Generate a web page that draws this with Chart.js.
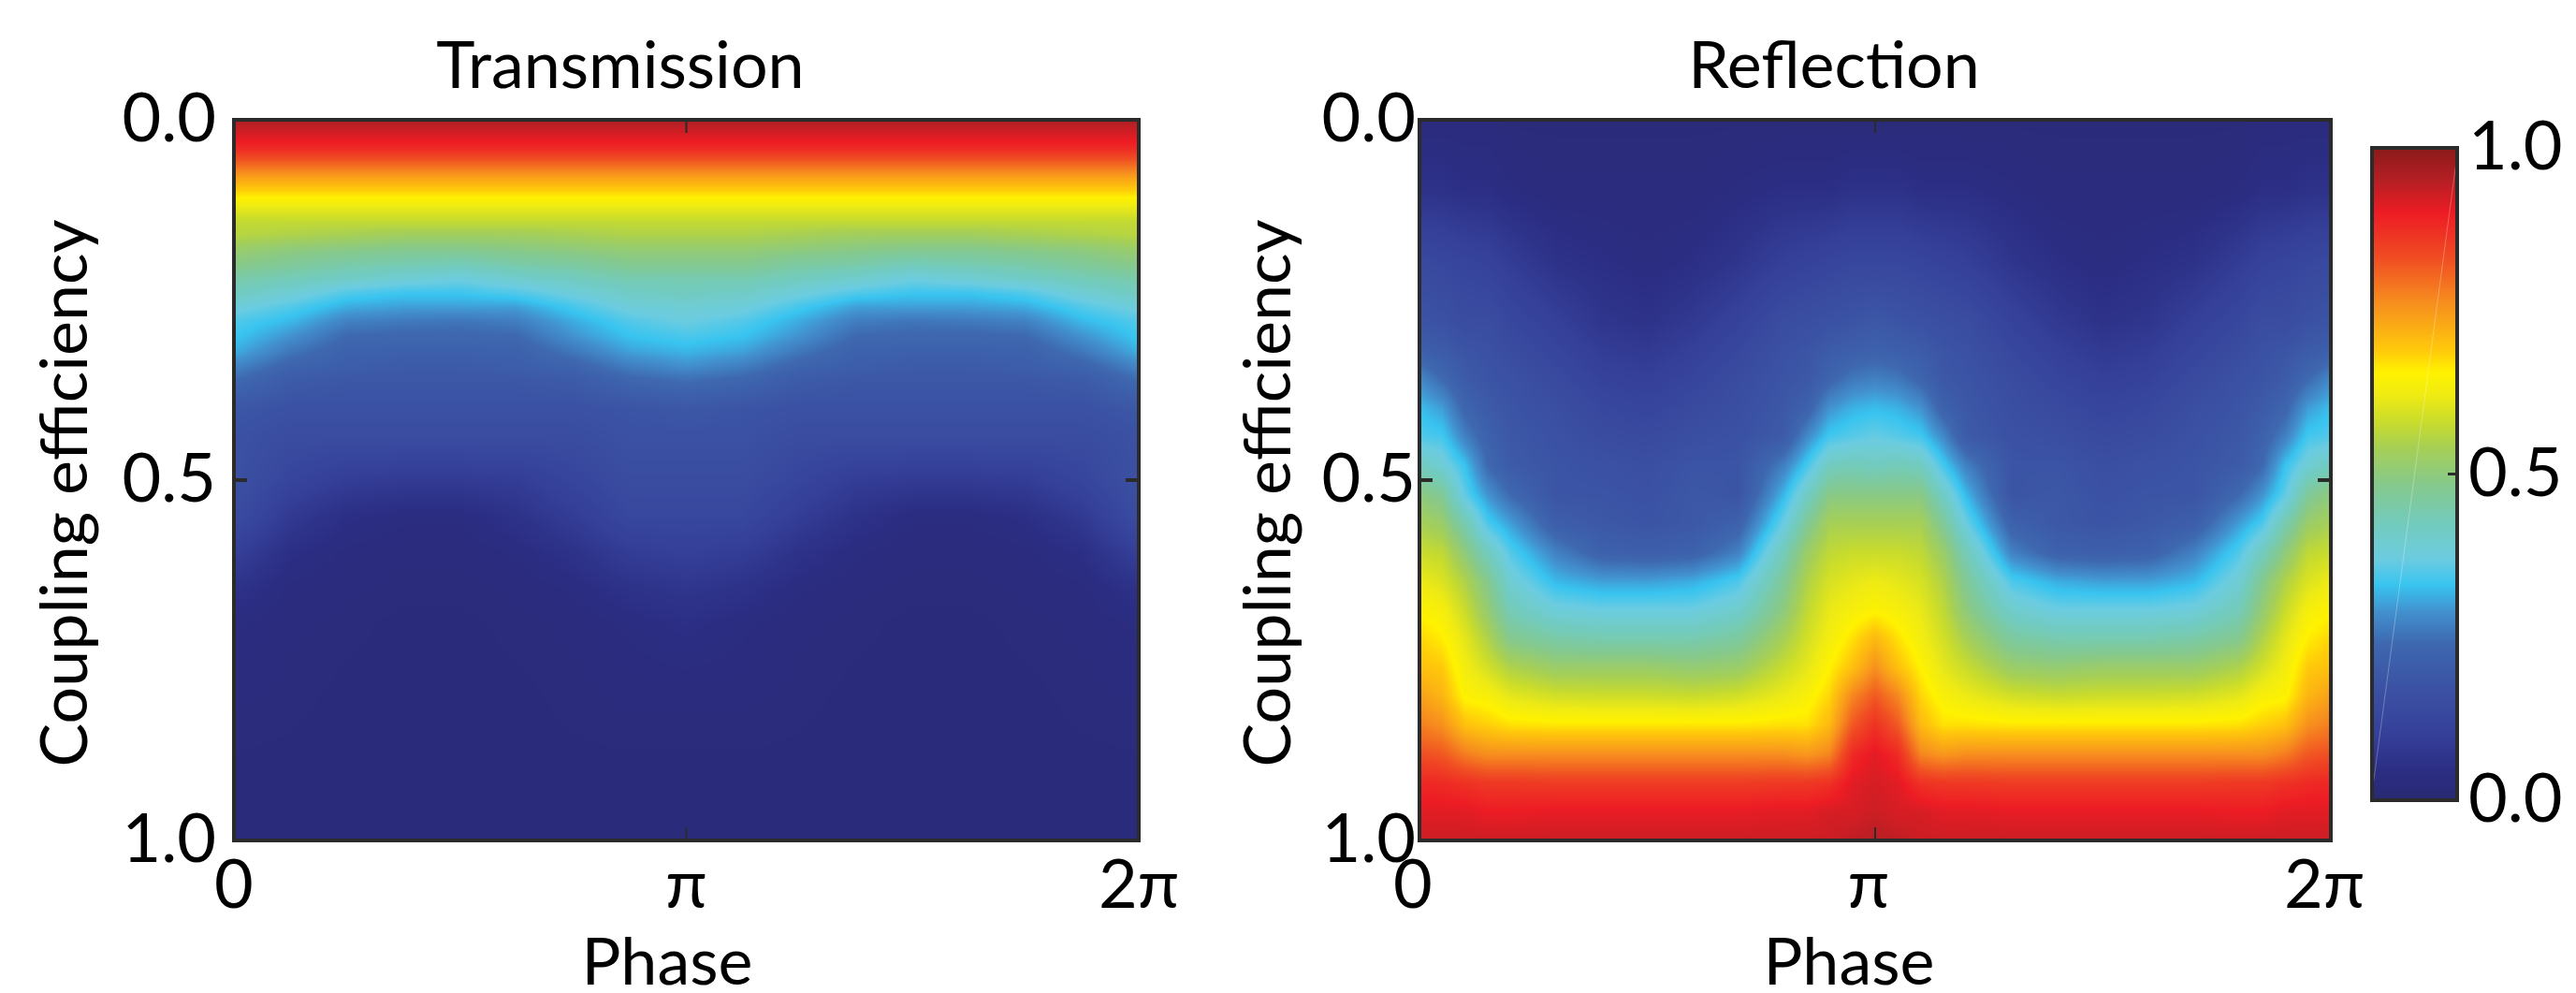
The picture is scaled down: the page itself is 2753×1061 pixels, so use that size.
<!DOCTYPE html>
<html>
<head>
<meta charset="utf-8">
<style>
  html, body { margin: 0; background: #fff; }
  canvas { position: absolute; top: 0; }
</style>
<script src="https://cdn.jsdelivr.net/npm/chart.js@4/dist/chart.umd.min.js"></script>
</head>
<body>
<canvas id="transmission" width="1280" height="1061" style="left:0"></canvas>
<canvas id="reflection" width="1300" height="1061" style="left:1290px"></canvas>
<canvas id="colorbar" width="253" height="1061" style="left:2500px"></canvas>
<script>
// --- DATA ---
const phaseLabels = ['0', 'π', '2π'];
const couplingLabels = ['0.0', '0.5', '1.0'];
const colorbarLabels = ['0.0', '0.5', '1.0'];

// phase in units of pi
const transmissionPhases = [0, 0.125, 0.25, 0.375, 0.5, 0.625, 0.75, 0.875, 1, 1.125, 1.25, 1.375, 1.5, 1.625, 1.75, 1.875, 2];
const transmissionCouplings = [0, 0.02, 0.04, 0.06, 0.08, 0.1, 0.12, 0.14, 0.16, 0.18, 0.2, 0.22, 0.24, 0.26, 0.28, 0.3, 0.32, 0.34, 0.36, 0.4, 0.44, 0.5, 0.55, 0.6, 0.65, 0.7, 0.8, 0.9, 1];
// one inner list per phase, top to bottom
const transmissionValues = [
  [.96,.92,.88,.81,.74,.68,.62,.575,.56,.52,.49,.45,.42,.38,.35,.335,.315,.28,.245,.19,.17,.17,.15,.10,.06,.04,.03,.02,.02],
  [.96,.92,.88,.81,.74,.68,.62,.575,.55,.50,.47,.43,.39,.35,.32,.29,.26,.23,.20,.17,.15,.12,.08,.05,.035,.03,.025,.02,.02],
  [.96,.92,.88,.81,.74,.68,.62,.575,.54,.49,.45,.41,.35,.31,.27,.24,.22,.21,.19,.17,.15,.09,.05,.035,.03,.025,.02,.02,.02],
  [.96,.92,.88,.81,.74,.68,.62,.575,.53,.48,.44,.39,.335,.30,.26,.235,.22,.20,.19,.17,.15,.085,.04,.03,.025,.02,.02,.02,.02],
  [.96,.92,.88,.81,.74,.68,.62,.575,.53,.48,.43,.375,.335,.30,.255,.235,.22,.20,.19,.17,.15,.085,.04,.03,.025,.02,.02,.02,.02],
  [.96,.92,.88,.81,.74,.68,.62,.575,.53,.49,.45,.40,.35,.30,.265,.24,.22,.21,.19,.17,.15,.09,.06,.04,.03,.025,.02,.02,.02],
  [.96,.92,.88,.81,.74,.68,.62,.575,.54,.50,.46,.42,.38,.34,.31,.29,.26,.23,.20,.17,.15,.12,.09,.06,.04,.03,.025,.02,.02],
  [.96,.92,.88,.81,.74,.68,.62,.575,.55,.51,.48,.44,.41,.38,.35,.33,.305,.27,.235,.18,.17,.15,.13,.09,.06,.04,.03,.02,.02],
  [.96,.92,.88,.81,.74,.68,.62,.575,.55,.51,.48,.44,.42,.39,.37,.345,.32,.29,.25,.19,.17,.15,.13,.10,.07,.05,.03,.02,.02],
  [.96,.92,.88,.81,.74,.68,.62,.575,.55,.51,.48,.44,.41,.38,.35,.33,.305,.27,.235,.18,.17,.15,.13,.09,.06,.04,.03,.02,.02],
  [.96,.92,.88,.81,.74,.68,.62,.575,.54,.50,.46,.42,.38,.34,.31,.29,.26,.23,.20,.17,.15,.12,.09,.06,.04,.03,.025,.02,.02],
  [.96,.92,.88,.81,.74,.68,.62,.575,.53,.49,.45,.40,.35,.30,.265,.24,.22,.21,.19,.17,.15,.09,.06,.04,.03,.025,.02,.02,.02],
  [.96,.92,.88,.81,.74,.68,.62,.575,.53,.48,.43,.375,.335,.30,.255,.235,.22,.20,.19,.17,.15,.085,.04,.03,.025,.02,.02,.02,.02],
  [.96,.92,.88,.81,.74,.68,.62,.575,.53,.48,.44,.39,.335,.30,.26,.235,.22,.20,.19,.17,.15,.085,.04,.03,.025,.02,.02,.02,.02],
  [.96,.92,.88,.81,.74,.68,.62,.575,.54,.49,.45,.41,.35,.31,.27,.24,.22,.21,.19,.17,.15,.09,.05,.035,.03,.025,.02,.02,.02],
  [.96,.92,.88,.81,.74,.68,.62,.575,.55,.50,.47,.43,.39,.35,.32,.29,.26,.23,.20,.17,.15,.12,.08,.05,.035,.03,.025,.02,.02],
  [.96,.92,.88,.81,.74,.68,.62,.575,.56,.52,.49,.45,.42,.38,.35,.335,.315,.28,.245,.19,.17,.17,.15,.10,.06,.04,.03,.02,.02]
];

const reflectionPhases = [0, 0.05, 0.1, 0.15, 0.2, 0.3, 0.4, 0.5, 0.6, 0.7, 0.8, 0.85, 0.9, 0.95, 1, 1.05, 1.1, 1.15, 1.2, 1.3, 1.4, 1.5, 1.6, 1.7, 1.8, 1.85, 1.9, 1.95, 2];
const reflectionCouplings = [0, 0.1, 0.2, 0.28, 0.32, 0.36, 0.4, 0.44, 0.48, 0.52, 0.56, 0.6, 0.64, 0.68, 0.72, 0.76, 0.8, 0.84, 0.88, 0.92, 0.96, 1];
const reflectionValues = [
  [.03,.06,.14,.18,.21,.28,.325,.35,.42,.50,.54,.58,.62,.65,.68,.70,.74,.78,.83,.885,.91,.93],
  [.03,.06,.13,.17,.20,.24,.30,.34,.39,.47,.52,.57,.60,.635,.66,.69,.715,.76,.82,.88,.91,.93],
  [.03,.05,.12,.15,.18,.20,.23,.27,.33,.36,.44,.50,.55,.58,.61,.63,.65,.70,.78,.87,.91,.93],
  [.03,.05,.11,.15,.17,.18,.20,.22,.24,.29,.345,.42,.48,.51,.55,.59,.64,.685,.76,.86,.90,.93],
  [.02,.04,.09,.13,.15,.17,.18,.19,.20,.24,.30,.35,.39,.43,.48,.55,.61,.67,.76,.86,.90,.93],
  [.02,.03,.06,.10,.12,.14,.16,.17,.18,.18,.21,.27,.32,.38,.45,.52,.59,.665,.76,.855,.905,.93],
  [.02,.03,.05,.07,.09,.11,.13,.15,.17,.18,.19,.22,.30,.37,.44,.52,.585,.665,.76,.855,.905,.93],
  [.02,.03,.04,.06,.08,.10,.12,.14,.16,.17,.18,.21,.30,.37,.44,.52,.585,.665,.76,.855,.905,.93],
  [.02,.03,.05,.08,.10,.12,.14,.16,.18,.19,.19,.22,.31,.37,.44,.51,.58,.665,.76,.855,.905,.93],
  [.02,.04,.07,.11,.13,.15,.16,.17,.18,.18,.22,.27,.345,.40,.46,.52,.59,.665,.76,.855,.905,.93],
  [.02,.05,.10,.15,.17,.18,.19,.20,.27,.32,.37,.43,.47,.50,.54,.58,.62,.67,.76,.86,.91,.93],
  [.02,.05,.11,.16,.18,.19,.22,.28,.34,.41,.47,.52,.55,.57,.59,.61,.64,.67,.75,.86,.91,.93],
  [.02,.05,.12,.17,.20,.23,.29,.34,.42,.49,.54,.57,.595,.615,.63,.655,.68,.71,.77,.87,.92,.93],
  [.02,.06,.13,.18,.21,.26,.315,.355,.43,.49,.54,.58,.61,.635,.67,.70,.77,.82,.88,.91,.92,.94],
  [.02,.06,.13,.19,.22,.27,.325,.365,.42,.49,.54,.58,.62,.65,.71,.76,.82,.87,.91,.92,.93,.95],
  [.02,.06,.13,.18,.21,.26,.315,.355,.43,.49,.54,.58,.61,.635,.67,.70,.77,.82,.88,.91,.92,.94],
  [.02,.05,.12,.17,.20,.23,.29,.34,.42,.49,.54,.57,.595,.615,.63,.655,.68,.71,.77,.87,.92,.93],
  [.02,.05,.11,.16,.18,.19,.22,.28,.34,.41,.47,.52,.55,.57,.59,.61,.64,.67,.75,.86,.91,.93],
  [.02,.05,.10,.15,.17,.18,.19,.20,.27,.32,.37,.43,.47,.50,.54,.58,.62,.67,.76,.86,.91,.93],
  [.02,.04,.07,.11,.13,.15,.16,.17,.18,.18,.22,.27,.345,.40,.46,.52,.59,.665,.76,.855,.905,.93],
  [.02,.03,.05,.08,.10,.12,.14,.16,.18,.19,.19,.22,.31,.37,.44,.51,.58,.665,.76,.855,.905,.93],
  [.02,.03,.04,.06,.08,.10,.12,.14,.16,.17,.18,.21,.30,.37,.44,.52,.585,.665,.76,.855,.905,.93],
  [.02,.03,.05,.07,.09,.11,.13,.15,.17,.18,.19,.22,.30,.37,.44,.52,.585,.665,.76,.855,.905,.93],
  [.02,.03,.06,.10,.12,.14,.16,.17,.18,.18,.21,.27,.32,.38,.45,.52,.59,.665,.76,.855,.905,.93],
  [.02,.04,.09,.13,.15,.17,.18,.19,.20,.24,.30,.35,.39,.43,.48,.55,.61,.67,.76,.86,.90,.93],
  [.03,.05,.11,.15,.17,.18,.20,.22,.24,.29,.345,.42,.48,.51,.55,.59,.64,.685,.76,.86,.90,.93],
  [.03,.05,.12,.15,.18,.20,.23,.27,.33,.36,.44,.50,.55,.58,.61,.63,.65,.70,.78,.87,.91,.93],
  [.03,.06,.13,.17,.20,.24,.30,.34,.39,.47,.52,.57,.60,.635,.66,.69,.715,.76,.82,.88,.91,.93],
  [.03,.06,.14,.18,.21,.28,.325,.35,.42,.50,.54,.58,.62,.65,.68,.70,.74,.78,.83,.885,.91,.93]
];

// colour scale
const colorLevels = [0, 0.045, 0.1, 0.17, 0.24, 0.29, 0.33, 0.37, 0.43, 0.484, 0.54, 0.58, 0.62, 0.655, 0.69, 0.76, 0.83, 0.9, 0.95, 1];
const colorValues = ['#2a2a72', '#2b2d83', '#354099', '#3b51a3', '#3e68b0', '#4292cf', '#38c4f0', '#6ccce0', '#74cbb8', '#86c98c',
  '#a6cf55', '#c9dc2c', '#eeea14', '#fff200', '#ffc90b', '#f7901e', '#f04e23', '#ed1c24', '#b51f24', '#8b1a1a'];
const colorbarEnds = [0, 1];
const colorbarStreakX = [0.02, 0.98];
const colorbarStreakY = [0.03, 0.97];

const titleTransmission = 'Transmission';
const titleReflection = 'Reflection';
const xAxisTitle = 'Phase';
const yAxisTitle = 'Coupling efficiency';

// --- STYLE ---
const LABEL_FONT = '70px Lato';
const TICK_FONT = { family: 'Lato', size: 72 };
const INK = '#000';
const FRAME = '#2b2b2b';

const stopRgb = colorValues.map(hex => [1, 3, 5].map(i => parseInt(hex.slice(i, i + 2), 16)));

function colorFor(v) {
  let k = 0;
  while (k < colorLevels.length - 2 && v > colorLevels[k + 1]) k++;
  const t = Math.min(1, Math.max(0, (v - colorLevels[k]) / (colorLevels[k + 1] - colorLevels[k])));
  return stopRgb[k].map((c, i) => c + (stopRgb[k + 1][i] - c) * t);
}

function bracket(list, value) {
  let k = 0;
  while (k < list.length - 2 && value > list[k + 1]) k++;
  const t = Math.min(1, Math.max(0, (value - list[k]) / (list[k + 1] - list[k])));
  return [k, t];
}

/**
 * Shades the chart area from the dataset's cells, like imshow with bilinear
 * smoothing. Every pixel is looked up through the chart's own scales.
 */
function heatmapPlugin(columns, rows) {
  return {
    id: 'heatmap',
    beforeDatasetsDraw(chart) {
      const cells = chart.data.datasets[0].data;
      const { left, top, width, height } = chart.chartArea;
      const w = Math.round(width), h = Math.round(height);
      const image = chart.ctx.createImageData(w, h);
      const xs = [];
      for (let px = 0; px < w; px++) xs.push(bracket(columns, chart.scales.x.getValueForPixel(left + px + 0.5)));
      for (let py = 0; py < h; py++) {
        const [j, tj] = bracket(rows, chart.scales.y.getValueForPixel(top + py + 0.5));
        for (let px = 0; px < w; px++) {
          const [i, ti] = xs[px];
          const a = cells[i * rows.length + j].v, b = cells[i * rows.length + j + 1].v;
          const c = cells[(i + 1) * rows.length + j].v, d = cells[(i + 1) * rows.length + j + 1].v;
          const v = (a * (1 - tj) + b * tj) * (1 - ti) + (c * (1 - tj) + d * tj) * ti;
          const rgb = colorFor(v);
          const o = (py * w + px) * 4;
          image.data[o] = rgb[0];
          image.data[o + 1] = rgb[1];
          image.data[o + 2] = rgb[2];
          image.data[o + 3] = 255;
        }
      }
      chart.ctx.putImageData(image, left, top);
    }
  };
}

// Dark frame with short inward ticks, on all sides unless told otherwise.
function framePlugin(showX, sideTickRightOnly) {
  return {
    id: 'frame',
    afterDatasetsDraw(chart) {
      const { ctx, chartArea: { left, right, top, bottom }, scales } = chart;
      ctx.save();
      ctx.strokeStyle = FRAME;
      ctx.lineWidth = 4;
      ctx.strokeRect(left, top, right - left, bottom - top);
      if (showX) {
        ctx.lineWidth = 2;
        scales.x.ticks.forEach((t, i) => {
          const x = scales.x.getPixelForTick(i);
          ctx.beginPath();
          ctx.moveTo(x, top); ctx.lineTo(x, top + 14);
          ctx.moveTo(x, bottom); ctx.lineTo(x, bottom - 14);
          ctx.stroke();
        });
      }
      ctx.lineWidth = sideTickRightOnly ? 3 : 4;
      scales.y.ticks.forEach((t, i) => {
        if (sideTickRightOnly && (t.value === 0 || t.value === 1)) return;
        const y = scales.y.getPixelForTick(i);
        ctx.beginPath();
        if (!sideTickRightOnly) { ctx.moveTo(left, y); ctx.lineTo(left + 14, y); }
        ctx.moveTo(right, y); ctx.lineTo(right - (sideTickRightOnly ? 10 : 14), y);
        ctx.stroke();
      });
      ctx.restore();
    }
  };
}

// Title and axis names sit off-centre in the reference, so they go in by hand.
function labelsPlugin(labels) {
  return {
    id: 'labels',
    afterDraw(chart) {
      const ctx = chart.ctx;
      ctx.save();
      ctx.fillStyle = INK;
      ctx.font = LABEL_FONT;
      ctx.textAlign = 'center';
      ctx.textBaseline = 'middle';
      labels.forEach(l => {
        ctx.save();
        ctx.translate(l.x, l.y);
        if (l.rotate) ctx.rotate(-Math.PI / 2);
        ctx.fillText(l.text, 0, 0);
        ctx.restore();
      });
      ctx.restore();
    }
  };
}

function cellsFrom(columns, rows, values) {
  const cells = [];
  columns.forEach((x, i) => rows.forEach((y, j) => cells.push({ x, y, v: values[i][j] })));
  return cells;
}

const hiddenGrid = { display: false };
const hiddenBorder = { display: false };

function makePanel(id, columns, rows, values, area, labels, yPad, xOffset) {
  const canvas = document.getElementById(id);
  new Chart(canvas, {
    type: 'scatter',
    data: { datasets: [{ data: cellsFrom(columns, rows, values), pointRadius: 0, pointHoverRadius: 0 }] },
    options: {
      responsive: false,
      animation: false,
      events: [],
      layout: { padding: { left: 0, right: canvas.width - area.right, top: area.top, bottom: 0 } },
      plugins: { legend: { display: false }, tooltip: { enabled: false } },
      scales: {
        x: {
          type: 'linear', min: 0, max: 2,
          afterFit: scale => { scale.height = canvas.height - area.bottom; },
          grid: hiddenGrid, border: hiddenBorder,
          ticks: { stepSize: 1, autoSkip: false, maxRotation: 0, padding: -2, labelOffset: xOffset, color: INK, font: TICK_FONT, callback: v => phaseLabels[v] }
        },
        y: {
          type: 'linear', min: 0, max: 1, reverse: true,
          afterFit: scale => { scale.width = area.left; },
          grid: hiddenGrid, border: hiddenBorder,
          ticks: { stepSize: 0.5, autoSkip: false, padding: yPad, color: INK, font: TICK_FONT, callback: v => couplingLabels[v * 2] }
        }
      }
    },
    plugins: [heatmapPlugin(columns, rows), framePlugin(true, false), labelsPlugin(labels)]
  });
}

makePanel('transmission', transmissionPhases, transmissionCouplings, transmissionValues,
  { left: 250, right: 1217, top: 128, bottom: 898 },
  [
    { text: titleTransmission, x: 663, y: 71 },
    { text: xAxisTitle, x: 713, y: 1029 },
    { text: yAxisTitle, x: 70, y: 527, rotate: true }
  ], 11, 0);

makePanel('reflection', reflectionPhases, reflectionCouplings, reflectionValues,
  { left: 227, right: 1201, top: 128, bottom: 898 },
  [
    { text: titleReflection, x: 670, y: 71 },
    { text: xAxisTitle, x: 686, y: 1029 },
    { text: yAxisTitle, x: 66, y: 527, rotate: true }
  ], -4, -7);

// colour bar: the same shading, with the value itself as the only variable
new Chart(document.getElementById('colorbar'), {
  type: 'scatter',
  data: {
    datasets: [
      { data: cellsFrom(colorbarEnds, colorLevels, colorbarEnds.map(() => colorLevels)), pointRadius: 0, pointHoverRadius: 0 },
      {
        data: colorbarStreakX.map((x, i) => ({ x, y: colorbarStreakY[i] })),
        showLine: true, pointRadius: 0, borderWidth: 1, borderColor: 'rgba(255,255,255,0.28)'
      }
    ]
  },
  options: {
    responsive: false,
    animation: false,
    events: [],
    layout: { padding: { left: 35, right: 0, top: 158, bottom: 1061 - 855 } },
    plugins: { legend: { display: false }, tooltip: { enabled: false } },
    scales: {
      x: { type: 'linear', min: 0, max: 1, display: false },
      y: {
        type: 'linear', position: 'right', min: 0, max: 1,
        afterFit: scale => { scale.width = 253 - 126; },
        grid: hiddenGrid, border: hiddenBorder,
        ticks: { stepSize: 0.5, autoSkip: false, padding: 4, color: INK, font: TICK_FONT, callback: v => colorbarLabels[v * 2] }
      }
    }
  },
  plugins: [heatmapPlugin(colorbarEnds, colorLevels), framePlugin(false, true)]
});
</script>
</body>
</html>
